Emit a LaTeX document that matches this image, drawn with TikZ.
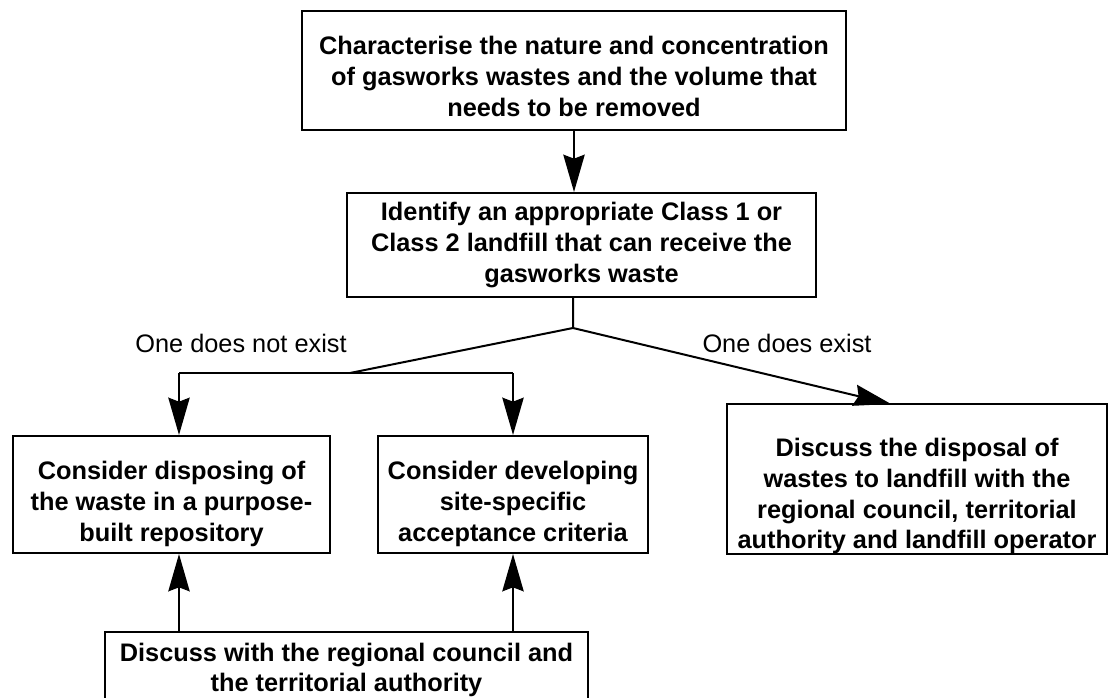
\documentclass[tikz,border=0pt]{standalone}
\usepackage{fontspec}
\setmainfont{Liberation Sans}
\usetikzlibrary{arrows.meta}
\usetikzlibrary{positioning}

\tikzset{
  flowbox/.style={draw, line width=1.5pt, inner sep=0pt},
  boxtext/.style={align=center, inner sep=0.75pt,
    font=\bfseries\fontsize{19}{23}\selectfont},
  flowline/.style={line width=1.5pt},
  flowarrow/.style={line width=1.5pt, -{Stealth[length=28pt,width=16pt,inset=3pt]}},
  branchlabel/.style={inner sep=0.75pt, font=\fontsize{19}{23}\selectfont}
}

\begin{document}
\begin{tikzpicture}[x=0.75pt,y=0.75pt,yscale=-1,xscale=1]
\useasboundingbox (0,0) rectangle (1109,698);
\clip (0,0) rectangle (1109,698);

%Shape: Rectangle [top]
\node [flowbox, minimum width=408pt, minimum height=89.25pt] (charact) at (574,70.5) {};
\node [boxtext] (charact-text) at ([yshift=4.5pt]charact.center)
  {Characterise the nature and concentration\\ of gasworks wastes and the volume that\\ needs to be removed};
%Shape: Rectangle [landfill]
\node [flowbox, minimum width=351.75pt, minimum height=78pt] (identify) at (581.5,245) {};
\node [boxtext] (identify-text) at (identify.center)
  {Identify an appropriate Class 1 or\\ Class 2 landfill that can receive the\\ gasworks waste};
%Shape: Rectangle [repository]
\node [flowbox, minimum width=237.75pt, minimum height=87.75pt] (repository) at (171.5,494.5) {};
\node [boxtext] (repository-text) at ([yshift=7pt]repository.center)
  {Consider disposing of\\ the waste in a purpose-\\ built repository};
%Shape: Rectangle [criteria]
\node [flowbox, minimum width=202.5pt, minimum height=87.75pt] (criteria) at (513,494.5) {};
\node [boxtext] (criteria-text) at ([yshift=7pt]criteria.center)
  {Consider developing\\ site-specific\\ acceptance criteria};
%Shape: Rectangle [disposal]
\node [flowbox, minimum width=285pt, minimum height=112.5pt] (disposal) at (917,479) {};
\node [boxtext] (disposal-text) at ([yshift=13pt]disposal.center)
  {Discuss the disposal of\\ wastes to landfill with the\\ regional council, territorial\\ authority and landfill operator};
%Shape: Rectangle [council]
\node [flowbox, minimum width=362.25pt, minimum height=57pt] (council) at (346.5,670) {};
\node [boxtext] (council-text) at (council.center)
  {Discuss with the regional council and\\ the territorial authority};

% branch points
\coordinate (split) at (573,328);
\coordinate (leftjoin) at (350,373);
\coordinate (leftend) at (179,373);
\coordinate (midend) at (513,373);
\coordinate (disptip) at (891,404);

%Straight Lines
\draw [flowarrow] (charact.south) -- (charact.south |- identify.north);
\draw [flowline] (split |- identify.south) -- (split) -- (leftjoin);
\draw [flowline] (leftend) -- (midend);
\draw [flowarrow] (leftend) -- (leftend |- repository.north);
\draw [flowarrow] (midend) -- (midend |- criteria.north);
\draw [flowarrow] (split) -- (disptip);
\draw [flowarrow] (leftend |- council.north) -- (leftend |- repository.south);
\draw [flowarrow] (midend |- council.north) -- (midend |- criteria.south);

% Text Node
\node [branchlabel] (notexist) at (241,343) {One does not exist};
% Text Node
\node [branchlabel] (doesexist) at (787,343) {One does exist};

\end{tikzpicture}
\end{document}
